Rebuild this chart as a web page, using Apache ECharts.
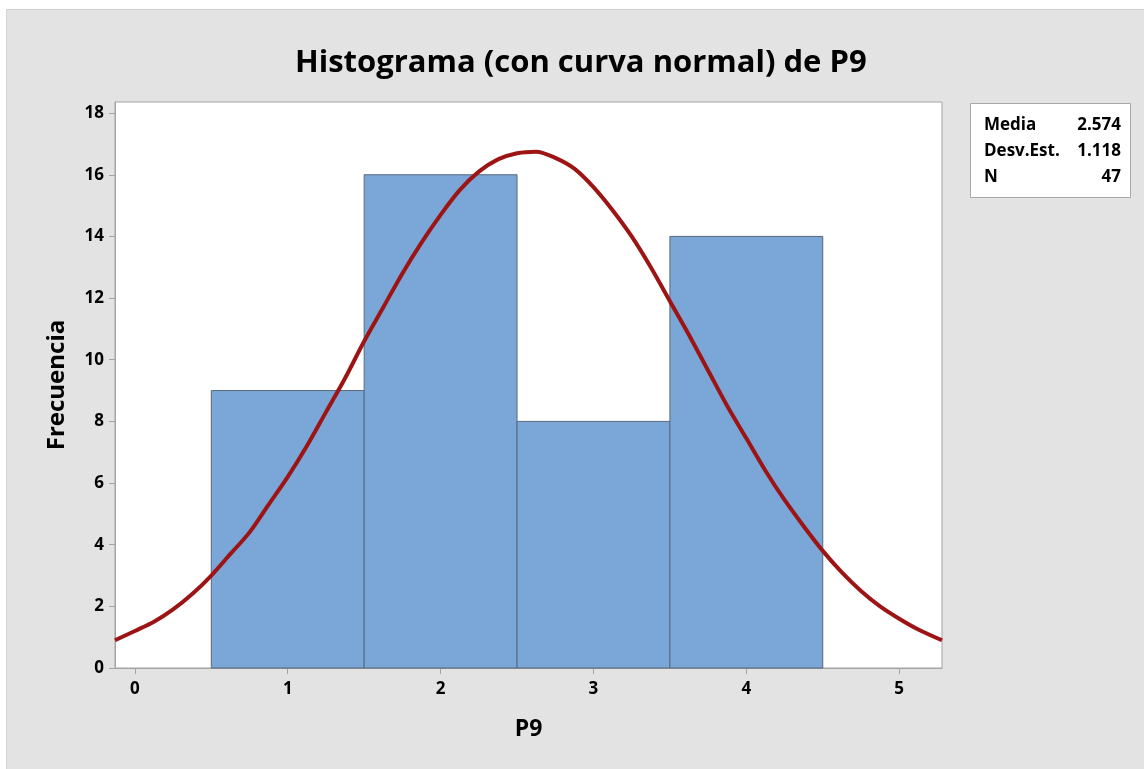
<!DOCTYPE html>
<html>
<head>
<meta charset="utf-8">
<script src="https://cdn.jsdelivr.net/npm/echarts@6/dist/echarts.min.js"></script>
<style>
  html, body { margin: 0; padding: 0; background: #fff; }
  #main { width: 1144px; height: 769px; }
</style>
</head>
<body>
<div id="main"></div>
<script>
// histogram bins (P9)
var binStart = [0.5, 1.5, 2.5, 3.5];
var binEnd = [1.5, 2.5, 3.5, 4.5];
var counts = [9, 16, 8, 14];

// fitted normal curve
var curveX = [-0.13, 0, 0.125, 0.25, 0.375, 0.5, 0.625, 0.75, 0.875, 1, 1.125, 1.25, 1.375, 1.5, 1.625, 1.75, 1.875, 2, 2.125, 2.25, 2.375, 2.5, 2.625, 2.75, 2.875, 3, 3.125, 3.25, 3.375, 3.5, 3.625, 3.75, 3.875, 4, 4.125, 4.25, 4.375, 4.5, 4.625, 4.75, 4.875, 5, 5.125, 5.28];
var curveY = [0.9, 1.2, 1.5, 1.9, 2.4, 3.0, 3.7, 4.4, 5.3, 6.2, 7.2, 8.3, 9.4, 10.6, 11.7, 12.8, 13.8, 14.7, 15.5, 16.1, 16.5, 16.7, 16.75, 16.55, 16.2, 15.6, 14.85, 14.0, 13.0, 11.9, 10.8, 9.65, 8.5, 7.45, 6.4, 5.45, 4.6, 3.8, 3.1, 2.5, 2.0, 1.6, 1.25, 0.9];

var xTicks = [0, 1, 2, 3, 4, 5];
var yTicks = [0, 2, 4, 6, 8, 10, 12, 14, 16, 18];

var statLabels = ['Media', 'Desv.Est.', 'N'];
var statValues = ['2.574', '1.118', '47'];

var font = "'Open Sans', 'Noto Sans', sans-serif";
var chart = echarts.init(document.getElementById('main'));

var bars = binStart.map(function (s, i) { return [s, binEnd[i], counts[i]]; });
var curve = curveX.map(function (x, i) { return [x, curveY[i]]; });

var statTexts = [];
statLabels.forEach(function (t, i) {
  statTexts.push({ type: 'text', left: 984, top: 117 + i * 26,
    style: { text: t, font: 'bold 17px ' + font, fill: '#000' } });
  statTexts.push({ type: 'text', right: 1144 - 1121, top: 117 + i * 26,
    style: { text: statValues[i], font: 'bold 17px ' + font, fill: '#000', textAlign: 'right' } });
});

chart.setOption({
  backgroundColor: '#fff',
  animation: false,
  graphic: [
    { type: 'rect', z: -10, shape: { x: 6.5, y: 9.5, width: 1150, height: 770 },
      style: { fill: '#e3e3e3', stroke: '#d2d2d2', lineWidth: 1 } },
    { type: 'text', left: 295, top: 48,
      style: { text: 'Histograma (con curva normal) de P9', font: 'bold 31px ' + font, fill: '#000' } },
    { type: 'rect', shape: { x: 970.5, y: 103.5, width: 160, height: 94 },
      style: { fill: '#fff', stroke: '#a8a8a8', lineWidth: 1 } }
  ].concat(statTexts),
  grid: {
    left: 115, top: 102, right: 202, bottom: 101,
    containLabel: false,
    show: true, backgroundColor: '#fff', borderColor: '#a3a3a3', borderWidth: 1
  },
  xAxis: {
    type: 'value', min: -0.13, max: 5.28,
    name: 'P9', nameLocation: 'middle', nameGap: 50,
    nameTextStyle: { fontFamily: font, fontWeight: 'bold', fontSize: 23, color: '#000' },
    axisLine: { show: true, onZero: false, lineStyle: { color: '#a3a3a3', width: 1 } },
    axisTick: { show: true, length: 6, lineStyle: { color: '#a3a3a3' }, customValues: xTicks },
    axisLabel: { customValues: xTicks, margin: 13, fontFamily: font, fontWeight: 'bold', fontSize: 17, color: '#000' },
    splitLine: { show: false }
  },
  yAxis: {
    type: 'value', min: 0, max: 18.36,
    name: 'Frecuencia', nameLocation: 'middle', nameGap: 46,
    nameTextStyle: { fontFamily: font, fontWeight: 'bold', fontSize: 24, color: '#000' },
    axisLine: { show: true, onZero: false, lineStyle: { color: '#a3a3a3', width: 1 } },
    axisTick: { show: true, length: 6, lineStyle: { color: '#a3a3a3' }, customValues: yTicks },
    axisLabel: { customValues: yTicks, margin: 11, fontFamily: font, fontWeight: 'bold', fontSize: 17, color: '#000' },
    splitLine: { show: false }
  },
  series: [
    {
      type: 'custom',
      data: bars,
      encode: { x: [0, 1], y: 2 },
      renderItem: function (params, api) {
        var p0 = api.coord([api.value(0), api.value(2)]);
        var p1 = api.coord([api.value(1), 0]);
        return {
          type: 'rect',
          shape: { x: p0[0], y: p0[1], width: p1[0] - p0[0], height: p1[1] - p0[1] },
          style: { fill: '#7ba7d8', stroke: '#56687c', lineWidth: 1 }
        };
      },
      z: 2
    },
    {
      type: 'line',
      data: curve,
      smooth: 0.3,
      symbol: 'none',
      clip: true,
      lineStyle: { color: '#9c1414', width: 4 },
      z: 3
    }
  ]
});
</script>
</body>
</html>
